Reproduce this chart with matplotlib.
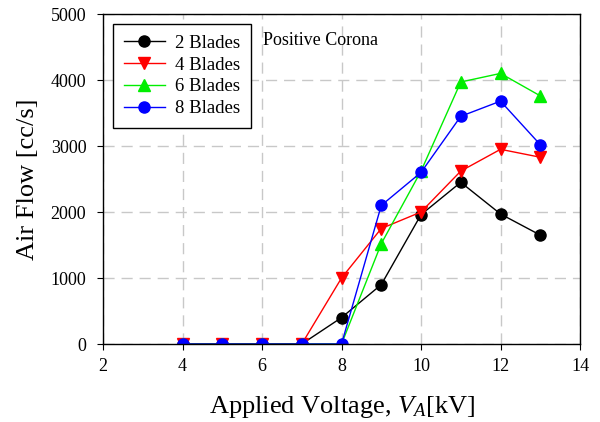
import matplotlib
matplotlib.use("Agg")
import matplotlib.pyplot as plt

voltage = [4, 5, 6, 7, 8, 9, 10, 11, 12, 13]
blades2 = [0, 0, 0, 0, 400, 900, 1960, 2450, 1970, 1650]
blades4 = [0, 0, 0, 0, 1000, 1750, 2000, 2620, 2950, 2830]
blades6 = [0, 0, 0, 0, 0, 1520, 2620, 3970, 4100, 3760]
blades8 = [0, 0, 0, 0, 0, 2100, 2600, 3450, 3680, 3020]

plt.rcParams['font.family'] = ['Liberation Serif', 'DejaVu Serif']
plt.rcParams['mathtext.fontset'] = 'custom'
plt.rcParams['mathtext.it'] = 'Liberation Serif:italic'
plt.rcParams['mathtext.rm'] = 'Liberation Serif'

fig = plt.figure(figsize=(6, 4.22), dpi=100)
ax = fig.add_axes([0.1717, 0.1848, 0.795, 0.782])

ax.plot(voltage, blades2, color='black', marker='o', ms=8, lw=1, label='2 Blades')
ax.plot(voltage, blades4, color='red', marker='v', ms=8.5, lw=1, label='4 Blades')
ax.plot(voltage, blades6, color='#00ee00', marker='^', ms=8.5, lw=1, label='6 Blades')
ax.plot(voltage, blades8, color='blue', marker='o', ms=8, lw=1, label='8 Blades')

ax.set_xlim(2, 14)
ax.set_ylim(0, 5000)
ax.set_xticks([2, 4, 6, 8, 10, 12, 14])
ax.set_yticks([0, 1000, 2000, 3000, 4000, 5000])
ax.grid(True, color='#c8c8c8', linestyle=(0, (8, 5)), lw=1)
ax.set_axisbelow(True)
ax.tick_params(direction='out', length=4, labelsize=13)
ax.tick_params(axis='y', pad=8)
ax.tick_params(axis='x', pad=6)
for s in ax.spines.values():
    s.set_linewidth(1)

ax.set_xlabel(r'Applied Voltage, $V_A$[kV]', fontsize=19, labelpad=14)
ax.set_ylabel('Air Flow [cc/s]', fontsize=19, labelpad=8)

leg = ax.legend(loc='upper left', fontsize=13.5, frameon=True, fancybox=False,
                edgecolor='black', framealpha=1, handlelength=2.2,
                borderaxespad=0.55, labelspacing=0.25, borderpad=0.55,
                handletextpad=0.55)
leg.get_frame().set_linewidth(1)

ax.text(0.335, 0.92, 'Positive Corona', transform=ax.transAxes, fontsize=13, va='center')

fig.savefig('out.png', dpi=100)
